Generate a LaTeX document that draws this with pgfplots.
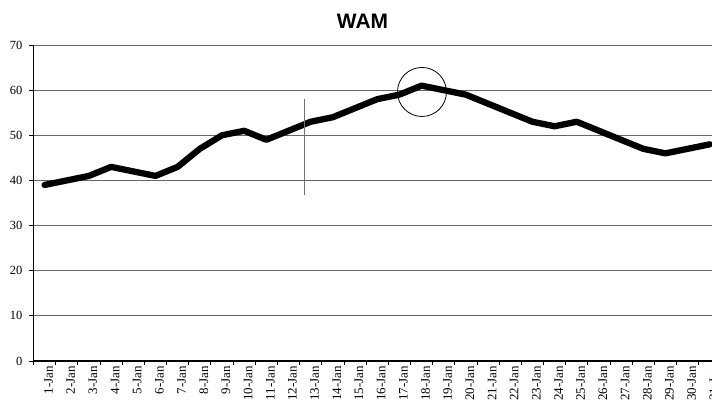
\documentclass[border=0pt]{standalone}
\usepackage{pgfplots}
\pgfplotsset{compat=1.18}
\usepackage{fontspec}
\setmainfont{Liberation Serif}
\newfontfamily\titlefont{Liberation Sans}
\begin{document}
\begin{tikzpicture}
\begin{axis}[
  at={(0,0)}, anchor=south west,
  scale only axis,
  width=678.5bp, height=316bp,
  xmin=0.5, xmax=31.1,
  ymin=0, ymax=70,
  axis x line=bottom, axis y line=left,
  axis line style={-, line width=1.8bp, black},
  ytick={0,10,...,70},
  ymajorgrids,
  grid style={line width=1bp, black!60},
  xtick={1,...,31},
  xticklabels={1-Jan,2-Jan,3-Jan,4-Jan,5-Jan,6-Jan,7-Jan,8-Jan,9-Jan,10-Jan,11-Jan,12-Jan,13-Jan,14-Jan,15-Jan,16-Jan,17-Jan,18-Jan,19-Jan,20-Jan,21-Jan,22-Jan,23-Jan,24-Jan,25-Jan,26-Jan,27-Jan,28-Jan,29-Jan,30-Jan,31-Jan},
  minor xtick={0.5,1.5,...,30.5},
  tick align=outside,
  major tick length=4bp, minor tick length=4bp,
  major x tick style={draw=none},
  minor x tick style={black, line width=0.8bp},
  major y tick style={black, line width=0.8bp},
  x tick label style={font=\fontsize{13}{15}\selectfont, rotate=90, anchor=east, inner sep=1bp, yshift=-4bp},
  y tick label style={font=\fontsize{12.5}{14}\selectfont, inner sep=1bp, xshift=-6bp},
  /pgf/number format/assume math mode=true,
  clip=false,
]
\addplot[black, line width=6.3bp, line join=round, line cap=round] coordinates {
(1,39) (2,40) (3,41) (4,43) (5,42) (6,41) (7,43) (8,47) (9,50) (10,51)
(11,49) (12,51) (13,53) (14,54) (15,56) (16,58) (17,59) (18,61) (19,60) (20,59)
(21,57) (22,55) (23,53) (24,52) (25,53) (26,51) (27,49) (28,47) (29,46) (30,47)
(31,48)
};
\addplot[black!55, line width=1bp] coordinates {(12.7,36.7) (12.7,58)};
\addplot[only marks, mark=o, mark size=24.5bp, mark options={black, line width=0.8bp}] coordinates {(18.02,59.6)};
\end{axis}
\node[anchor=base, font=\titlefont\bfseries\fontsize{21}{24}\selectfont] at (329bp,332bp) {WAM};
\pgfresetboundingbox
\useasboundingbox (-33.5bp,-41bp) rectangle (678.5bp,361bp);
\end{tikzpicture}
\end{document}
